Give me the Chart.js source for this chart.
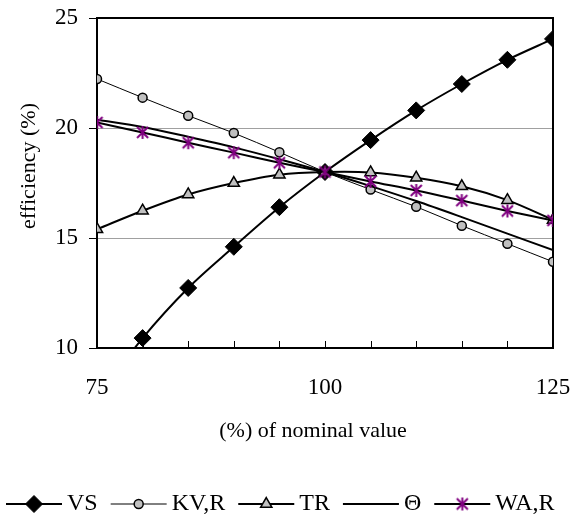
<!DOCTYPE html>
<html>
<head>
<meta charset="utf-8">
<style>
  html, body { margin: 0; padding: 0; background: #fff; }
</style>
<script src="https://cdn.jsdelivr.net/npm/chart.js@4.4.1/dist/chart.umd.min.js"></script>
</head>
<body>
<canvas id="chart" width="573" height="517"></canvas>
<script>
// values
const nominal = [75, 80, 85, 90, 95, 100, 105, 110, 115, 120, 125];
const vsEff = [7.7, 10.45, 12.73, 14.6, 16.4, 18.0, 19.45, 20.8, 22.0, 23.1, 24.05];
const kvrEff = [22.23, 21.38, 20.56, 19.77, 18.9, 18.0, 17.2, 16.42, 15.56, 14.74, 13.92];
const trEff = [15.4, 16.24, 16.98, 17.5, 17.88, 18.0, 17.98, 17.74, 17.35, 16.72, 15.82];
const thetaEff = [20.38, 20.05, 19.6, 19.12, 18.58, 18.0, 17.36, 16.68, 15.95, 15.2, 14.45];
const warEff = [20.25, 19.8, 19.33, 18.88, 18.42, 18.0, 17.57, 17.16, 16.7, 16.23, 15.8];
const seriesNames = ["VS", "KV,R", "TR", "\u0398", "WA,R"];
const yTicks = [10, 15, 20, 25];

const FONT = "'Liberation Serif', 'Times New Roman', serif";

function makeStar(size, color) {
  const c = document.createElement("canvas");
  c.width = c.height = size;
  const g = c.getContext("2d");
  const m = size / 2, r = size / 2 - 1;
  g.strokeStyle = color;
  g.lineWidth = 2;
  g.beginPath();
  g.moveTo(m - r * 0.85, m - r * 0.85); g.lineTo(m + r * 0.85, m + r * 0.85);
  g.moveTo(m + r * 0.85, m - r * 0.85); g.lineTo(m - r * 0.85, m + r * 0.85);
  g.moveTo(m, m - r); g.lineTo(m, m + r);
  g.stroke();
  return c;
}
const star = makeStar(15, "#800080");

const pts = vals => nominal.map((x, i) => ({ x: x, y: vals[i] }));

const datasets = [
  { label: seriesNames[0], data: pts(vsEff), borderColor: "#000", borderWidth: 2,
    pointStyle: "rectRot", pointRadius: 8.5, pointBackgroundColor: "#000", pointBorderColor: "#000", pointBorderWidth: 1, order: 5 },
  { label: seriesNames[1], data: pts(kvrEff), borderColor: "#000", borderWidth: 1,
    pointStyle: "circle", pointRadius: 4.5, pointBackgroundColor: "#c0c0c0", pointBorderColor: "#000", pointBorderWidth: 1.5, order: 4 },
  { label: seriesNames[2], data: pts(trEff), borderColor: "#000", borderWidth: 2,
    pointStyle: "triangle", pointRadius: 6.5, pointBackgroundColor: "#c0c0c0", pointBorderColor: "#000", pointBorderWidth: 1.5, order: 3 },
  { label: seriesNames[3], data: pts(thetaEff), borderColor: "#000", borderWidth: 2,
    pointRadius: 0, order: 2 },
  { label: seriesNames[4], data: pts(warEff), borderColor: "#000", borderWidth: 2,
    pointStyle: star, pointRadius: 7, pointBackgroundColor: "#800080", pointBorderColor: "#800080", pointBorderWidth: 0, order: 1 }
];

// box round the plot area and the inward x tick marks
const framePlugin = {
  id: "frame",
  beforeDatasetsDraw(chart) {
    const { ctx, chartArea: a, scales: { x } } = chart;
    ctx.save();
    ctx.strokeStyle = "#000";
    ctx.lineWidth = 1;
    x.ticks.forEach(t => {
      if (t.value <= x.min || t.value >= x.max) return;
      const px = Math.round(x.getPixelForValue(t.value)) + 0.5;
      ctx.beginPath();
      ctx.moveTo(px, a.bottom);
      ctx.lineTo(px, a.bottom - 7);
      ctx.stroke();
    });
    ctx.lineWidth = 2;
    ctx.strokeRect(a.left, a.top, a.right - a.left, a.bottom - a.top);
    ctx.restore();
  }
};

// axis titles and the line+marker legend
const textPlugin = {
  id: "texts",
  afterDraw(chart) {
    const ctx = chart.ctx;
    ctx.save();
    ctx.fillStyle = "#000";
    ctx.font = "22px " + FONT;
    ctx.textAlign = "center";
    ctx.textBaseline = "middle";
    ctx.save();
    ctx.translate(29, 166);
    ctx.rotate(-Math.PI / 2);
    ctx.fillText("efficiency (%)", 0, 0);
    ctx.restore();
    ctx.textBaseline = "alphabetic";
    ctx.fillText("(%) of nominal value", 313, 437);

    const y = 504, lineLen = 56;
    let x = 6;
    ctx.font = "24px " + FONT;
    ctx.textAlign = "left";
    ctx.textBaseline = "middle";
    chart.data.datasets.forEach(ds => {
      ctx.strokeStyle = ds.borderColor;
      ctx.lineWidth = ds.borderWidth;
      ctx.beginPath();
      ctx.moveTo(x, y);
      ctx.lineTo(x + lineLen, y);
      ctx.stroke();
      if (ds.pointRadius > 0) {
        ctx.fillStyle = ds.pointBackgroundColor;
        ctx.strokeStyle = ds.pointBorderColor;
        ctx.lineWidth = ds.pointBorderWidth;
        Chart.helpers.drawPoint(ctx, { radius: ds.pointRadius, pointStyle: ds.pointStyle, rotation: 0, borderWidth: ds.pointBorderWidth }, x + lineLen / 2, y);
      }
      ctx.fillStyle = "#000";
      ctx.fillText(ds.label, x + lineLen + 5, y);
      x += lineLen + 5 + ctx.measureText(ds.label).width + 13;
    });
    ctx.restore();
  }
};

new Chart(document.getElementById("chart"), {
  type: "line",
  data: { datasets: datasets },
  options: {
    responsive: false,
    animation: false,
    devicePixelRatio: 1,
    layout: { padding: { top: 18, right: 20, left: 0, bottom: 0 } },
    elements: { line: { tension: 0.33 } },
    plugins: { legend: { display: false }, tooltip: { enabled: false } },
    scales: {
      x: {
        type: "linear", min: 75, max: 125,
        grid: { display: false, drawTicks: false },
        border: { display: true, color: "#000", width: 2 },
        ticks: {
          stepSize: 5, autoSkip: false, maxRotation: 0, padding: 26,
          color: "#000", font: { family: FONT, size: 23 },
          callback: v => (v % 25 === 0 ? v : "")
        },
        afterFit: s => { s.height = 169; s.paddingLeft = 0; s.paddingRight = 0; }
      },
      y: {
        min: yTicks[0], max: yTicks[yTicks.length - 1],
        grid: { color: "#a0a0a0", lineWidth: 1, tickLength: 8, tickColor: "#000" },
        border: { display: true, color: "#000", width: 2 },
        ticks: { stepSize: 5, padding: 11, color: "#000", font: { family: FONT, size: 23 } },
        afterFit: s => { s.width = 97; s.paddingTop = 0; s.paddingBottom = 0; }
      }
    }
  },
  plugins: [framePlugin, textPlugin]
});
</script>
</body>
</html>
